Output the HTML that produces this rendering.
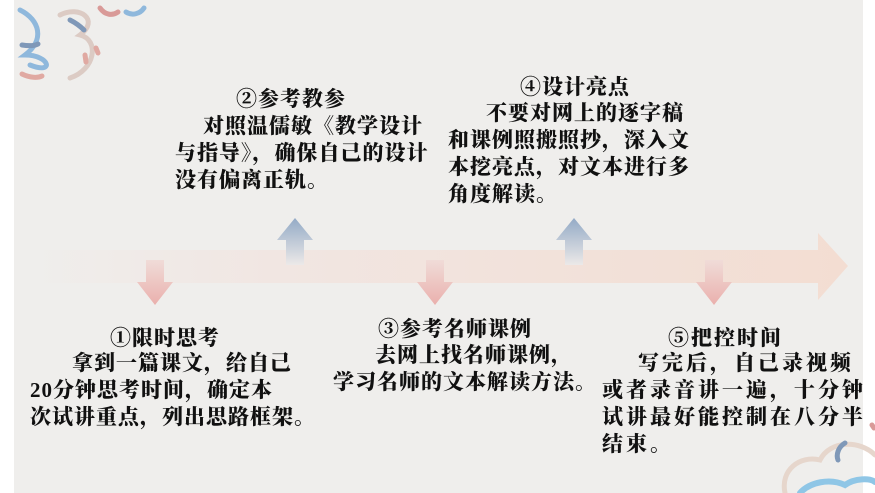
<!DOCTYPE html>
<html><head><meta charset="utf-8"><style>
body{margin:0;width:875px;height:493px;overflow:hidden;background:#fff;}
#bg{position:absolute;left:14px;top:0;width:849px;height:493px;background:#efeeec;}
.t{position:absolute;font-family:"Liberation Serif","Noto Serif CJK SC",serif;font-weight:900;font-size:21px;letter-spacing:1px;color:#111;white-space:nowrap;line-height:27px;}
</style></head><body>
<div id="bg"></div>
<svg width="875" height="493" style="position:absolute;left:0;top:0">
<defs>
<linearGradient id="band" x1="0" x2="1"><stop offset="0" stop-color="#efeeec"/><stop offset="0.3" stop-color="#f1e6e2"/><stop offset="1" stop-color="#f3ddd2"/></linearGradient>
<linearGradient id="dn" x1="0" y1="0" x2="0" y2="1"><stop offset="0" stop-color="#f0dcd8"/><stop offset="1" stop-color="#eab0ad"/></linearGradient>
<linearGradient id="up" x1="0" y1="1" x2="0" y2="0"><stop offset="0" stop-color="#ece9e8"/><stop offset="1" stop-color="#93aac6"/></linearGradient>
</defs>
<polygon points="30,250 818,250 818,233 848,266 818,300 818,283 30,283" fill="url(#band)"/>
<g fill="url(#dn)">
<polygon points="146,260 164,260 164,282 173,282 155,305 137,282 146,282"/>
<polygon points="426,260 444,260 444,282 453,282 435,305 417,282 426,282"/>
<polygon points="705,260 723,260 723,282 732,282 714,305 696,282 705,282"/>
</g>
<g fill="url(#up)">
<polygon points="286,265 304,265 304,240 313,240 295,218 277,240 286,240"/>
<polygon points="565,265 583,265 583,240 592,240 574,218 556,240 565,240"/>
</g>
<g fill="none" stroke-linecap="round" stroke-width="5">
<path d="M20,10 C40,20 45,40 25,55 C50,55 55,75 30,65" stroke="#8fb8dc"/>
<path d="M60,15 C80,5 100,20 80,35 C100,40 95,70 70,78" stroke="#dccbc4"/>
<path d="M70,20 C78,24 82,28 84,30" stroke="#7f98b8"/>
<path d="M100,8 C105,15 112,16 118,12" stroke="#d99a98"/>
<path d="M126,12 C132,16 140,14 144,8" stroke="#8fb8dc"/>
<path d="M22,45 C28,46 34,46 38,44" stroke="#7f98b8"/>
<path d="M22,74 C30,78 38,78 42,76" stroke="#e0a9a2"/>
<path d="M85,55 L86,62" stroke="#e0a9a2"/>
<path d="M96,48 L98,53" stroke="#e0a9a2"/>
<path d="M785,493 C780,470 800,455 820,460 C830,440 860,440 875,455" stroke="#e6d6cc"/>
<path d="M845,443 C838,447 836,455 838,460" stroke="#7f98b8"/>
<path d="M800,493 C810,482 830,478 845,485 C855,478 870,478 875,482" stroke="#8fc6e6" stroke-width="6"/>
<path d="M872,425 L874,428" stroke="#d99a98"/>
</g>
</svg>
<div class="t" style="left:236px;top:86px">②参考教参</div>
<div class="t" style="left:175px;top:113px;"><span style="padding-left:28px">对照温儒敏《教学设计</span><br>与指导》，确保自己的设计<br>没有偏离正轨。</div>
<div class="t" style="left:520px;top:74px">④设计亮点</div>
<div class="t" style="left:448px;top:100px"><span style="padding-left:38px">不要对网上的逐字稿</span><br>和课例照搬照抄，深入文<br>本挖亮点，对文本进行多<br>角度解读。</div>
<div class="t" style="left:110px;top:325px">①限时思考</div>
<div class="t" style="left:30px;top:350px"><span style="padding-left:42px">拿到一篇课文，给自己</span><br>20分钟思考时间，确定本<br>次试讲重点，列出思路框架。</div>
<div class="t" style="left:378px;top:316px">③参考名师课例</div>
<div class="t" style="left:333px;top:342px"><span style="padding-left:42px">去网上找名师课例，</span><br>学习名师的文本解读方法。</div>
<div class="t" style="left:668px;top:325px;letter-spacing:2px">⑤把控时间</div>
<div class="t" style="left:602px;top:350px;letter-spacing:3px"><span style="padding-left:36px">写完后，自己录视频</span><br>或者录音讲一遍，十分钟<br>试讲最好能控制在八分半<br>结束。</div>
</body></html>
